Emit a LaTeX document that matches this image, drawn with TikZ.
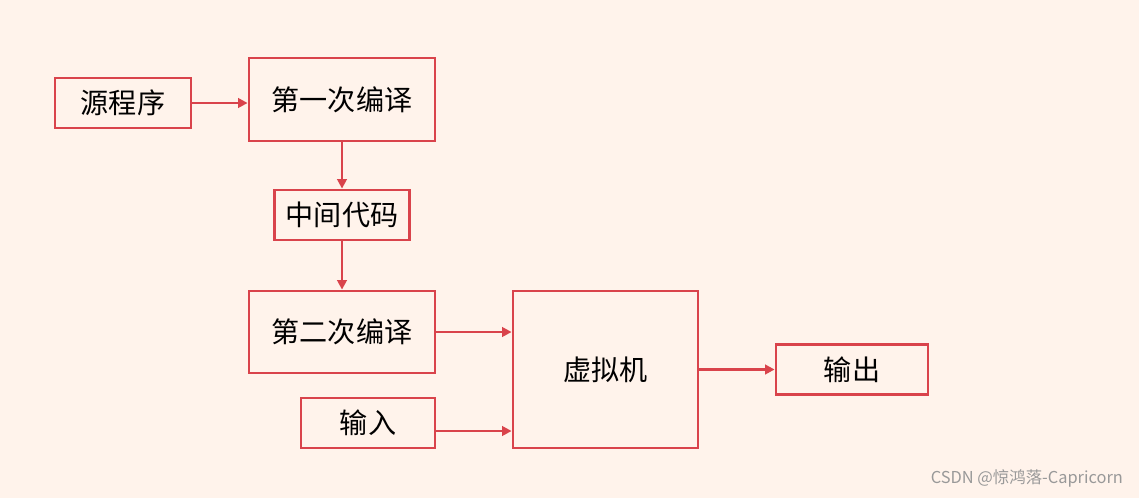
\documentclass[tikz,border=0pt]{standalone}
\usepackage{fontspec}
\newfontfamily\cjk{Noto Sans CJK SC}
\usetikzlibrary{arrows.meta}
\definecolor{bg}{HTML}{FFF3EB}
\definecolor{rd}{HTML}{D9434B}
\tikzset{box/.style={draw=rd,line width=2.4pt,inner sep=0pt,font=\cjk\fontsize{24}{28}\selectfont},
arr/.style={draw=rd,line width=2.2pt,-{Triangle[length=8pt,width=8pt]}}}
\begin{document}
\begin{tikzpicture}[x=0.03cm,y=-0.03cm]
\fill[bg] (0,0) rectangle (1139,498);
\useasboundingbox (0,0) rectangle (1139,498);
\node[box,minimum width=136*0.03cm,minimum height=50*0.03cm] (src) at (123,103) {源程序};
\node[box,minimum width=186*0.03cm,minimum height=83*0.03cm] (c1) at (342,99.5) {第一次编译};
\node[box,minimum width=135*0.03cm,minimum height=50*0.03cm] (mid) at (342,215) {中间代码};
\node[box,minimum width=186*0.03cm,minimum height=82*0.03cm] (c2) at (342,332) {第二次编译};
\node[box,minimum width=134*0.03cm,minimum height=50*0.03cm] (in) at (368,423) {输入};
\node[box,minimum width=185*0.03cm,minimum height=157*0.03cm] (vm) at (605.5,369.5) {虚拟机};
\node[box,minimum width=152*0.03cm,minimum height=50*0.03cm] (out) at (852,369.5) {输出};
\draw[arr] (src.east) -- (c1.west |- src.east);
\draw[arr] (c1.south) -- (mid.north);
\draw[arr] (mid.south) -- (c2.north);
\draw[arr] (c2.east) -- (c2.east -| vm.west);
\draw[arr] (in.east) ++(0,8) coordinate (ie) -- (ie -| vm.west);
\draw[arr] (vm.east) -- (out.west);
\node[font=\cjk\fontsize{14}{16}\selectfont,text=black!40,anchor=east] (wm) at (1127,478) {CSDN @惊鸿落-Capricorn};
\end{tikzpicture}
\end{document}
